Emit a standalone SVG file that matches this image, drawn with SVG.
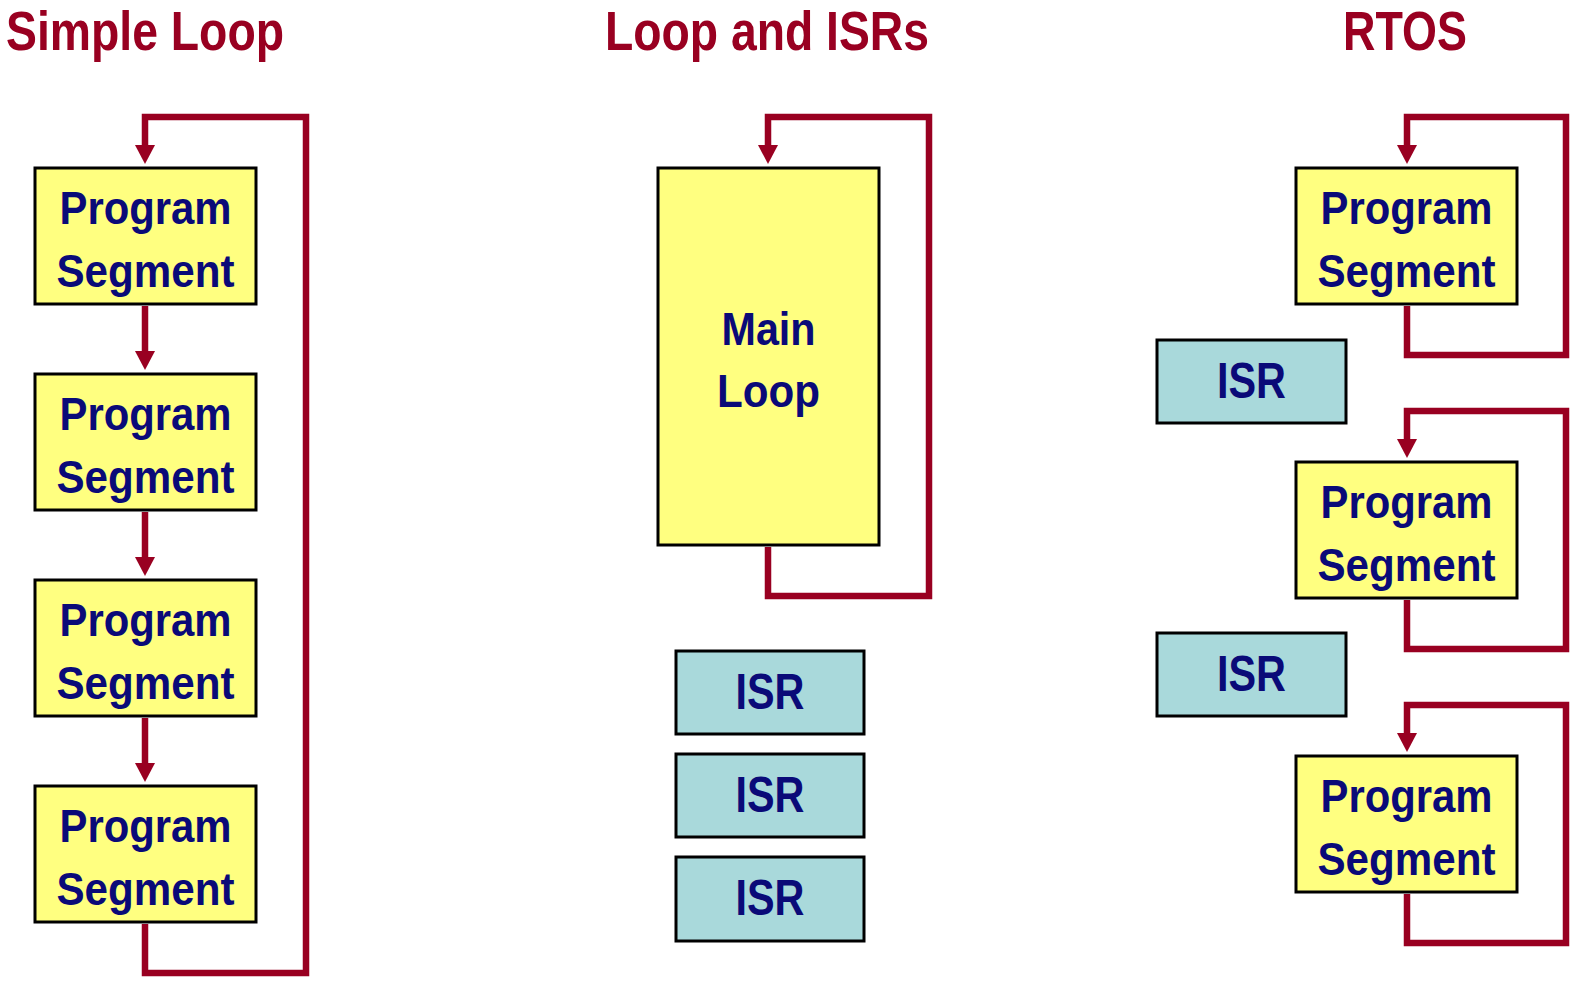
<svg xmlns="http://www.w3.org/2000/svg" width="1576" height="982" viewBox="0 0 1576 982">
<defs>
<style>
.title{font-family:"Liberation Sans",Arial,sans-serif;font-weight:bold;font-size:55px;fill:#990021;}
.lbl{font-family:"Liberation Sans",Arial,sans-serif;font-weight:bold;font-size:46px;fill:#0a0a78;text-anchor:middle;}
.isrt{font-family:"Liberation Sans",Arial,sans-serif;font-weight:bold;font-size:50px;fill:#0a0a78;text-anchor:middle;}
.seg{fill:#FFFF80;stroke:#000;stroke-width:3;}
.isr{fill:#A9D9DB;stroke:#000;stroke-width:3;}
.conn{fill:none;stroke:#990021;stroke-width:6.5;stroke-linejoin:miter;}
</style>
<marker id="ah" markerUnits="userSpaceOnUse" markerWidth="20" markerHeight="20" refX="1" refY="10" orient="auto">
<path d="M0,0 L19,10 L0,20 z" fill="#990021"/>
</marker>
</defs>
<rect width="1576" height="982" fill="#fff"/>
<g id="titles">
<text class="title" x="6" y="50" textLength="278" lengthAdjust="spacingAndGlyphs">Simple Loop</text>
<text class="title" x="605" y="50" textLength="324" lengthAdjust="spacingAndGlyphs">Loop and ISRs</text>
<text class="title" x="1343" y="50" textLength="124" lengthAdjust="spacingAndGlyphs">RTOS</text>
</g>
<g id="connectors">
<path class="conn" d="M145,306 V352" marker-end="url(#ah)"/>
<path class="conn" d="M145,512 V558" marker-end="url(#ah)"/>
<path class="conn" d="M145,718 V764" marker-end="url(#ah)"/>
<path class="conn" d="M145,924 V973 H306 V117 H145 V146" marker-end="url(#ah)"/>
<path class="conn" d="M768,547 V596 H929 V117 H768 V146" marker-end="url(#ah)"/>
<path class="conn" d="M1407,306 V355 H1566 V117 H1407 V146" marker-end="url(#ah)"/>
<path class="conn" d="M1407,600 V649 H1566 V411 H1407 V440" marker-end="url(#ah)"/>
<path class="conn" d="M1407,894 V943 H1566 V705 H1407 V734" marker-end="url(#ah)"/>
</g>
<g id="s1"><rect class="seg" x="35" y="168" width="221" height="136"/><text class="lbl" x="145.5" y="224" textLength="172" lengthAdjust="spacingAndGlyphs">Program</text><text class="lbl" x="145.5" y="287" textLength="178" lengthAdjust="spacingAndGlyphs">Segment</text></g>
<g id="s2"><rect class="seg" x="35" y="374" width="221" height="136"/><text class="lbl" x="145.5" y="430" textLength="172" lengthAdjust="spacingAndGlyphs">Program</text><text class="lbl" x="145.5" y="493" textLength="178" lengthAdjust="spacingAndGlyphs">Segment</text></g>
<g id="s3"><rect class="seg" x="35" y="580" width="221" height="136"/><text class="lbl" x="145.5" y="636" textLength="172" lengthAdjust="spacingAndGlyphs">Program</text><text class="lbl" x="145.5" y="699" textLength="178" lengthAdjust="spacingAndGlyphs">Segment</text></g>
<g id="s4"><rect class="seg" x="35" y="786" width="221" height="136"/><text class="lbl" x="145.5" y="842" textLength="172" lengthAdjust="spacingAndGlyphs">Program</text><text class="lbl" x="145.5" y="905" textLength="178" lengthAdjust="spacingAndGlyphs">Segment</text></g>
<g id="main"><rect class="seg" x="658" y="168" width="221" height="377"/><text class="lbl" x="768.5" y="345" textLength="94" lengthAdjust="spacingAndGlyphs">Main</text><text class="lbl" x="768.5" y="407" textLength="103" lengthAdjust="spacingAndGlyphs">Loop</text></g>
<g id="isr1"><rect class="isr" x="676" y="651" width="188" height="83"/><text class="isrt" x="770" y="709" textLength="69" lengthAdjust="spacingAndGlyphs">ISR</text></g>
<g id="isr2"><rect class="isr" x="676" y="754" width="188" height="83"/><text class="isrt" x="770" y="812" textLength="69" lengthAdjust="spacingAndGlyphs">ISR</text></g>
<g id="isr3"><rect class="isr" x="676" y="857" width="188" height="84"/><text class="isrt" x="770" y="915" textLength="69" lengthAdjust="spacingAndGlyphs">ISR</text></g>
<g id="r1"><rect class="seg" x="1296" y="168" width="221" height="136"/><text class="lbl" x="1406.5" y="224" textLength="172" lengthAdjust="spacingAndGlyphs">Program</text><text class="lbl" x="1406.5" y="287" textLength="178" lengthAdjust="spacingAndGlyphs">Segment</text></g>
<g id="r2"><rect class="seg" x="1296" y="462" width="221" height="136"/><text class="lbl" x="1406.5" y="518" textLength="172" lengthAdjust="spacingAndGlyphs">Program</text><text class="lbl" x="1406.5" y="581" textLength="178" lengthAdjust="spacingAndGlyphs">Segment</text></g>
<g id="r3"><rect class="seg" x="1296" y="756" width="221" height="136"/><text class="lbl" x="1406.5" y="812" textLength="172" lengthAdjust="spacingAndGlyphs">Program</text><text class="lbl" x="1406.5" y="875" textLength="178" lengthAdjust="spacingAndGlyphs">Segment</text></g>
<g id="risr1"><rect class="isr" x="1157" y="340" width="189" height="83"/><text class="isrt" x="1251.5" y="398" textLength="69" lengthAdjust="spacingAndGlyphs">ISR</text></g>
<g id="risr2"><rect class="isr" x="1157" y="633" width="189" height="83"/><text class="isrt" x="1251.5" y="691" textLength="69" lengthAdjust="spacingAndGlyphs">ISR</text></g>
</svg>
